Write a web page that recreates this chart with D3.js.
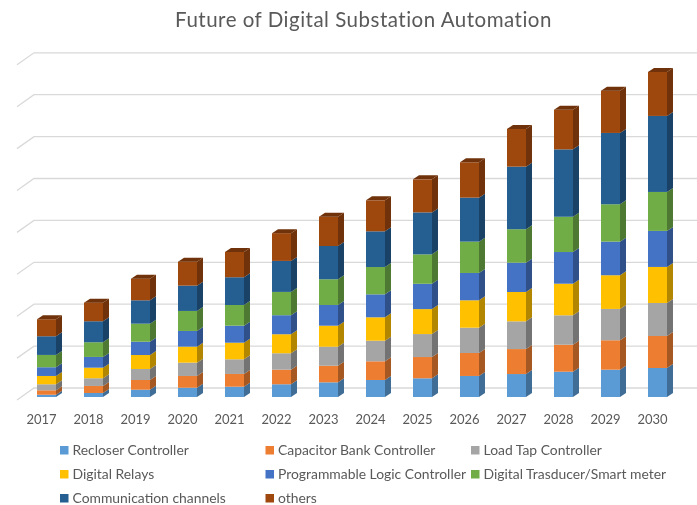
<!DOCTYPE html>
<html>
<head>
<meta charset="utf-8">
<script src="https://cdnjs.cloudflare.com/ajax/libs/d3/7.8.5/d3.min.js"></script>
<style>
html,body{margin:0;padding:0;background:#fff;overflow:hidden}
svg{display:block;font-family:Lato,"Open Sans",sans-serif;filter:blur(0.45px)}
</style>
</head>
<body>
<svg id="c" width="697" height="505"></svg>
<script>
const title = "Future of Digital Substation Automation";
const years = ["2017","2018","2019","2020","2021","2022","2023","2024","2025","2026","2027","2028","2029","2030"];
const seriesNames = ["Recloser Controller","Capacitor Bank Controller","Load Tap Controller","Digital Relays","Programmable Logic Controller","Digital Trasducer/Smart meter","Communication channels","others"];
const seriesColors = ["#5b9bd5","#ed7d31","#a5a5a5","#ffc000","#4472c4","#70ad47","#255e91","#9e480e"];
const gridValues = [0,50,100,150,200,250,300,350,400];
const recloser   = [2.7,4.8,8.7,11.1,12.3,15.2,17.5,20.3,22.3,25.1,27.4,30.2,32.6,34.6];
const capacitor  = [5.3,8.4,11.6,14,15.2,17.4,19.8,22.3,25.4,27.4,29.8,32.2,35.1,38.2];
const loadTap    = [7.2,9.2,13.1,15.9,17.5,19.6,22.7,24.6,27.4,30.2,33.1,35.1,37.4,39.4];
const relays     = [9.9,12.6,16.7,19.1,19.8,22.7,25.1,27.9,29.8,32.7,35,37.7,40.2,43];
const plc        = [10.4,12.8,15.9,18.7,20.3,22.7,24.7,27.4,30.2,32.6,35,37.8,40.1,43];
const transducer = [14.7,17.5,21.5,23.9,24.7,27.8,30.7,32.6,35.1,37.4,39.9,42.1,44.6,46.5];
const comms      = [22.3,25.1,27.9,30.2,33.1,37,39.7,42.6,50.1,52.5,74.7,80.4,85.1,90.7];
const others     = [20.3,22.2,25.8,28.6,30.2,33.1,35,37,39.4,42.2,45,47.3,50.5,52.5];
const seriesValues = [recloser,capacitor,loadTap,relays,plc,transducer,comms,others];

const svg = d3.select("#c");
const depthX = 6, depthY = 4;
const wallX = 17, wallY = 12;
const textColor = "#595959";

const x = d3.scaleBand().domain(years).range([23, 681]).paddingInner(0.596).paddingOuter(0.298);
const y = d3.scaleLinear().domain([0, 400]).range([397, 61.8]);

const rows = years.map((yr, i) => {
  const r = {year: yr};
  seriesNames.forEach((n, s) => r[n] = seriesValues[s][i]);
  return r;
});
const stacked = d3.stack().keys(seriesNames)(rows);

// gridlines: back wall plus the receding stub on the left
const grid = svg.append("g").attr("fill", "none").attr("stroke", "#d9d9d9").attr("stroke-width", 1.3);
grid.selectAll("path").data(gridValues).join("path")
  .attr("d", v => {
    const f = y(v) + 3, b = f - wallY;
    return `M${wallX},${f}L${wallX + 17},${b}L697,${b}`;
  });

const shade = (c, k) => { const q = d3.rgb(c); return d3.rgb(q.r * k, q.g * k, q.b * k).formatHex(); };

// bars, drawn column by column
const cols = svg.append("g").selectAll("g").data(years).join("g");
cols.each(function (yr, i) {
  const g = d3.select(this);
  const x0 = x(yr), w = x.bandwidth();
  stacked.forEach((layer, s) => {
    const yb = y(layer[i][0]), yt = y(layer[i][1]);
    const col = seriesColors[s];
    g.append("path").attr("fill", shade(col, 0.7))
      .attr("d", `M${x0 + w},${yb}L${x0 + w + depthX},${yb - depthY}L${x0 + w + depthX},${yt - depthY}L${x0 + w},${yt}Z`);
    g.append("rect").attr("x", x0).attr("y", yt).attr("width", w).attr("height", yb - yt).attr("fill", col);
    if (s === stacked.length - 1) {
      g.append("path").attr("fill", shade(col, 0.7))
        .attr("d", `M${x0},${yt}L${x0 + depthX},${yt - depthY}L${x0 + w + depthX},${yt - depthY}L${x0 + w},${yt}Z`);
    }
  });
});

// category axis
const axis = svg.append("g").attr("transform", "translate(-5,412)")
  .call(d3.axisBottom(x).tickSize(0).tickPadding(3));
axis.select(".domain").remove();
axis.selectAll("text").attr("font-family", "Lato").attr("font-size", 13).attr("fill", textColor);

// title
svg.append("text").attr("x", 363.5).attr("y", 27).attr("text-anchor", "middle")
  .attr("font-size", 20.5).attr("letter-spacing", 0.5).attr("fill", textColor).text(title);

// legend
const legendX = d3.scalePoint().domain([0,1,2]).range([60, 471]);
const legendY = d3.scalePoint().domain([0,1,2]).range([450, 498]);
const items = svg.append("g").selectAll("g").data(seriesNames).join("g")
  .attr("transform", (d, i) => `translate(${legendX(i % 3)},${legendY(Math.floor(i / 3))})`);
items.append("rect").attr("x", 0).attr("y", -4).attr("width", 8.5).attr("height", 8.5)
  .attr("fill", (d, i) => seriesColors[i]);
items.append("text").attr("x", 12.5).attr("y", 4.7).attr("font-size", 13.9).attr("fill", textColor).text(d => d);
</script>
</body>
</html>
